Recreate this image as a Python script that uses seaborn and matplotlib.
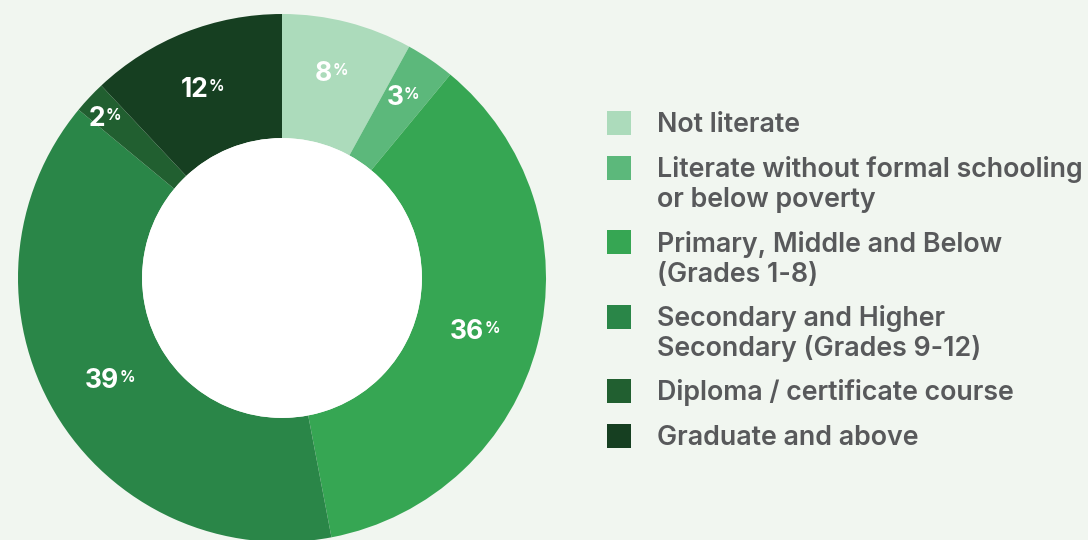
import numpy as np
import matplotlib
matplotlib.use("Agg")
import matplotlib.pyplot as plt
from matplotlib.patches import Rectangle, Circle
import seaborn as sns

# Education level shares (%)
categories = [
    "Not literate",
    "Literate without formal schooling\nor below poverty",
    "Primary, Middle and Below\n(Grades 1-8)",
    "Secondary and Higher\nSecondary (Grades 9-12)",
    "Diploma / certificate course",
    "Graduate and above",
]
shares = [8, 3, 36, 39, 2, 12]
colors = ["#acdbbb", "#5cb87b", "#36a653", "#2a8648", "#215f30", "#163f21"]

BG = "#f1f6f0"
TEXT = "#58595b"

sns.set_theme(style="white", rc={"figure.facecolor": BG, "axes.facecolor": BG,
                                 "savefig.facecolor": BG})
plt.rcParams["font.family"] = ["Inter", "DejaVu Sans"]

W, H = 1088, 540
fig = plt.figure(figsize=(W / 100, H / 100), dpi=100)

# Donut axes: centre (282, 278) px, outer radius 264 px
cx, cy, R = 282, 278, 264
ax = fig.add_axes([(cx - R) / W, (H - cy - R) / H, 2 * R / W, 2 * R / H])
ax.set_facecolor(BG)
palette = sns.color_palette(colors)
wedges, _ = ax.pie(shares, colors=palette, startangle=90, counterclock=False,
                   radius=1.0, wedgeprops=dict(width=0.47, linewidth=0))
ax.add_patch(Circle((0, 0), 0.53, facecolor="white", edgecolor="none", zorder=3))
ax.set_xlim(-1, 1)
ax.set_ylim(-1, 1)
ax.set_aspect("equal")
ax.axis("off")

# Percentage labels inside the ring
label_r = [0.81, 0.84, 0.77, 0.74, 0.90, 0.78]
cum = np.cumsum([0] + shares)
for i, v in enumerate(shares):
    mid = (cum[i] + v / 2) / sum(shares) * 2 * np.pi
    x = label_r[i] * np.sin(mid)
    y = label_r[i] * np.cos(mid)
    num = ax.annotate(f"{v}", xy=(x, y), xytext=(-8.5, -2.5), textcoords="offset points",
                      ha="center", va="center", color="white",
                      fontsize=19, fontweight="bold", zorder=5)
    ax.annotate("%", xy=(1.0, 0.92), xycoords=num, xytext=(0.5, 0),
                textcoords="offset points", ha="left", va="top",
                color="white", fontsize=11, fontweight="bold", zorder=5)

# Legend drawn as squares with wrapped labels
sq_x, sq = 607, 24
txt_x = 657
line_h = 30
gap = 44.5
yc = 123
for c, lab in zip(colors, categories):
    lines = lab.split("\n")
    fig.patches.append(Rectangle(((sq_x) / W, (H - yc - sq / 2) / H), sq / W, sq / H,
                                 transform=fig.transFigure, facecolor=c,
                                 edgecolor="none"))
    for j, ln in enumerate(lines):
        base = yc + 9.5 + j * line_h
        fig.text(txt_x / W, (H - base) / H, ln, ha="left", va="baseline",
                 color=TEXT, fontsize=19.3, fontweight="semibold")
    yc += line_h * (len(lines) - 1) + gap

fig.savefig("out.png", dpi=100, facecolor=BG)
